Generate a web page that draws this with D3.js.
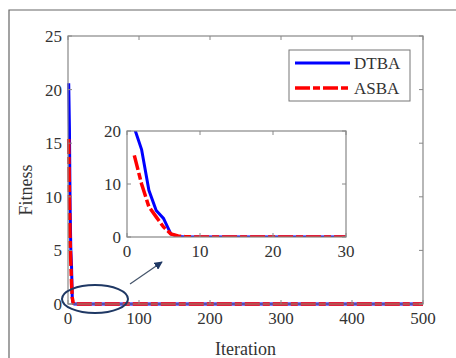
<!DOCTYPE html>
<html>
<head>
<meta charset="utf-8">
<script src="https://cdn.jsdelivr.net/npm/d3@7"></script>
<style>
  body { margin: 0; background: #fff; }
  text { font-family: "Liberation Serif", "DejaVu Serif", serif; fill: #333; }
</style>
</head>
<body>
<div id="chart"></div>
<script>
// data
const iterations = [1, 2, 3, 4, 5, 6, 7, 8, 9, 10, 30, 500];
const dtba = [20.6, 16.5, 8.8, 5.0, 3.5, 0.6, 0.1, 0.02, 0, 0, 0, 0];
const asba = [15.4, 10.0, 5.7, 3.8, 1.9, 0.6, 0.2, 0.05, 0.02, 0, 0, 0];
const xTicks = [0, 100, 200, 300, 400, 500];
const yTicks = [0, 5, 10, 15, 20, 25];
const insetXTicks = [0, 10, 20, 30];
const insetYTicks = [0, 10, 20];

const width = 456, height = 358;
const svg = d3.select("#chart").append("svg").attr("width", width).attr("height", height);

// outer figure frame (only left/top visible)
svg.append("path").attr("d", "M9,358 V10 H456").attr("fill", "none").attr("stroke", "#666").attr("stroke-width", 1.2);

const series = [
  { name: "DTBA", values: dtba, color: "#0000ff", dash: null, w: 3 },
  { name: "ASBA", values: asba, color: "#ff0000", dash: "15,3,7,3", w: 3.5 }
];

function drawAxes(g, x, y, xt, yt, fs) {
  const [x0, x1] = x.range(), [y0, y1] = y.range();
  // ticks inside, on all four sides
  xt.forEach((t) => {
    g.append("line").attr("x1", x(t)).attr("x2", x(t)).attr("y1", y0).attr("y2", y0 - 4).attr("stroke", "#888");
    g.append("line").attr("x1", x(t)).attr("x2", x(t)).attr("y1", y1).attr("y2", y1 + 4).attr("stroke", "#888");
    g.append("text").attr("x", x(t)).attr("y", y0 + fs + 3).attr("text-anchor", "middle")
      .attr("font-size", fs).text(t);
  });
  yt.forEach((t) => {
    g.append("line").attr("x1", x0).attr("x2", x0 + 4).attr("y1", y(t)).attr("y2", y(t)).attr("stroke", "#888");
    g.append("line").attr("x1", x1).attr("x2", x1 - 4).attr("y1", y(t)).attr("y2", y(t)).attr("stroke", "#888");
    g.append("text").attr("x", x0 - 6).attr("y", y(t)).attr("dy", "0.35em").attr("text-anchor", "end")
      .attr("font-size", fs).text(t);
  });
  g.append("rect").attr("x", x0).attr("y", y1).attr("width", x1 - x0).attr("height", y0 - y1)
    .attr("fill", "none").attr("stroke", "#888").attr("stroke-width", 1.2);
}

function drawLines(g, x, y, clipId) {
  const line = d3.line().x((d) => x(d[0])).y((d) => y(d[1]));
  const lg = g.append("g").attr("clip-path", clipId ? `url(#${clipId})` : null);
  series.forEach((s) => {
    lg.append("path")
      .datum(iterations.map((it, i) => [it, s.values[i]]))
      .attr("d", line)
      .attr("fill", "none")
      .attr("stroke", s.color)
      .attr("stroke-width", s.w)
      .attr("stroke-dasharray", s.dash);
  });
}

// main axes
const x = d3.scaleLinear().domain([0, 500]).range([68, 423]);
const y = d3.scaleLinear().domain([0, 25]).range([304, 36]);
const main = svg.append("g");
drawLines(main, x, y, null);
drawAxes(main, x, y, xTicks, yTicks, 17);

main.append("text").attr("x", (68 + 423) / 2).attr("y", 355).attr("text-anchor", "middle")
  .attr("font-size", 18).text("Iteration");
main.append("text").attr("transform", "translate(32,190) rotate(-90)").attr("text-anchor", "middle")
  .attr("font-size", 18).text("Fitness");

// legend
const leg = svg.append("g");
leg.append("rect").attr("x", 289).attr("y", 50).attr("width", 121).attr("height", 51)
  .attr("fill", "#fff").attr("stroke", "#777");
series.forEach((s, i) => {
  const ly = 63 + i * 25;
  leg.append("line").attr("x1", 295).attr("x2", 350).attr("y1", ly).attr("y2", ly)
    .attr("stroke", s.color).attr("stroke-width", s.w).attr("stroke-dasharray", s.dash);
  leg.append("text").attr("x", 354).attr("y", ly).attr("dy", "0.35em").attr("font-size", 17)
    .attr("fill", "#222").text(s.name);
});

// inset
const xi = d3.scaleLinear().domain([0, 30]).range([127, 346]);
const yi = d3.scaleLinear().domain([0, 20]).range([237, 131]);
const inset = svg.append("g");
inset.append("rect").attr("x", 127).attr("y", 131).attr("width", 219).attr("height", 106).attr("fill", "#fff");
svg.append("clipPath").attr("id", "insetClip").append("rect")
  .attr("x", 127).attr("y", 131).attr("width", 219).attr("height", 106);
drawLines(inset, xi, yi, "insetClip");
drawAxes(inset, xi, yi, insetXTicks, insetYTicks, 17);

// zoom marker ellipse and arrow
svg.append("defs").append("marker").attr("id", "arrow").attr("viewBox", "0 0 10 10")
  .attr("refX", 9).attr("refY", 5).attr("markerWidth", 7).attr("markerHeight", 7).attr("orient", "auto")
  .append("path").attr("d", "M0,0 L10,5 L0,10 z").attr("fill", "#1f3864");
svg.append("ellipse").attr("cx", 95).attr("cy", 299).attr("rx", 33).attr("ry", 14)
  .attr("fill", "none").attr("stroke", "#1f3864").attr("stroke-width", 2);
svg.append("line").attr("x1", 130).attr("y1", 284).attr("x2", 162).attr("y2", 262)
  .attr("stroke", "#44546a").attr("stroke-width", 1.2).attr("marker-end", "url(#arrow)");
</script>
</body>
</html>
